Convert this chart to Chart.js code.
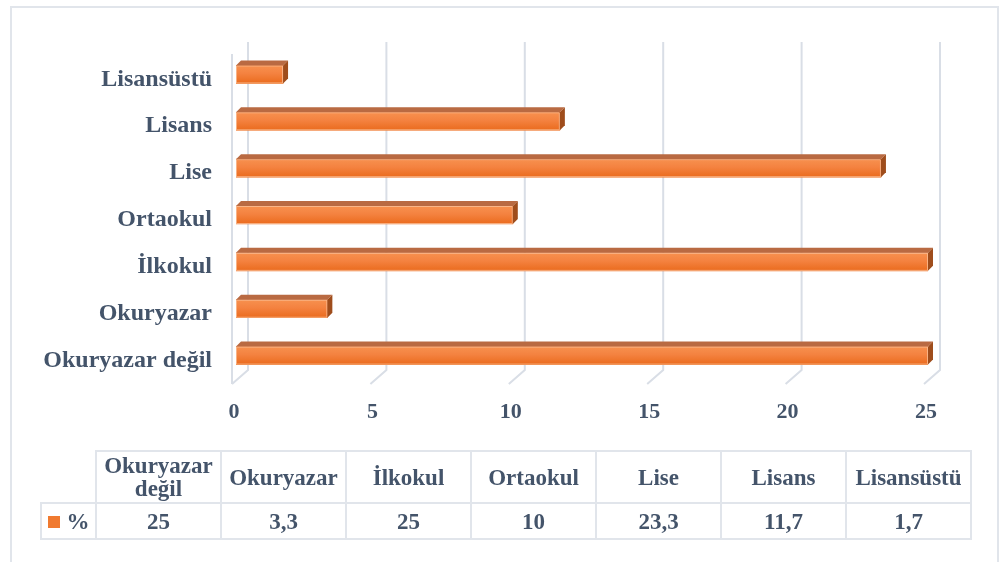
<!DOCTYPE html>
<html>
<head>
<meta charset="utf-8">
<script src="https://cdn.jsdelivr.net/npm/chart.js@4/dist/chart.umd.min.js"></script>
<style>
    html, body { margin: 0; padding: 0; background: #fff; }
    #wrap { position: relative; width: 1001px; height: 562px; overflow: hidden; }
    #frame { position: absolute; left: 10px; top: 6px; width: 985px; height: 600px; border: 2px solid #e1e5eb; }
    #chart { position: absolute; left: 0; top: 0; }
    #dataTable {
        position: absolute; left: 40px; top: 450px; width: 932px;
        border-collapse: collapse; table-layout: fixed;
        font-family: "Liberation Serif", "Times New Roman", serif; font-weight: bold;
        font-size: 23px; color: #44546a; text-align: center;
    }
    #dataTable td { border: 2px solid #e1e5eb; padding: 0; line-height: 23px; white-space: normal; }
    #dataTable tr.head td { height: 50px; }
    #dataTable tr.vals td { height: 34px; }
    #dataTable td.blank { border-top: none; border-left: none; }
    .key { display: inline-block; width: 12px; height: 12px; background: #f07a30; margin-right: 7px; vertical-align: 1px; }
</style>
</head>
<body>
<div id="wrap">
    <div id="frame"></div>
    <canvas id="chart" width="1001" height="562"></canvas>
    <table id="dataTable"></table>
</div>
<script>
// data
const categories = ['Okuryazar değil', 'Okuryazar', 'İlkokul', 'Ortaokul', 'Lise', 'Lisans', 'Lisansüstü'];
const percentValues = [25, 3.3, 25, 10, 23.3, 11.7, 1.7];
const seriesName = '%';
const tickValues = [0, 5, 10, 15, 20, 25];

const textColor = '#44546a';
const gridColor = '#d9dee6';
const serif = '"Liberation Serif", "Times New Roman", serif';

// 3D look: grid walls behind the bars
const gridPlugin = {
    id: 'grid3d',
    beforeDatasetsDraw(chart) {
        const ctx = chart.ctx;
        const x = chart.scales.x;
        const top = chart.chartArea.top;
        const bottom = chart.chartArea.bottom;
        ctx.save();
        ctx.strokeStyle = gridColor;
        ctx.lineWidth = 2;
        tickValues.forEach(v => {
            const px = x.getPixelForValue(v);
            ctx.beginPath();
            ctx.moveTo(px + 12, top - 9);
            ctx.lineTo(px + 12, bottom - 9);
            ctx.lineTo(px - 4, bottom + 5);
            ctx.stroke();
        });
        // front edge of the left wall
        const p0 = x.getPixelForValue(0);
        ctx.beginPath();
        ctx.moveTo(p0 - 4, top + 3);
        ctx.lineTo(p0 - 4, bottom + 5);
        ctx.stroke();
        ctx.restore();
    }
};

// 3D look: top and side faces of each bar
const barPlugin = {
    id: 'bars3d',
    afterDatasetsDraw(chart) {
        const ctx = chart.ctx;
        const d = 5;
        chart.getDatasetMeta(0).data.forEach(bar => {
            const left = bar.base;
            const right = bar.x;
            const t = bar.y - bar.height / 2;
            const b = bar.y + bar.height / 2;
            const g = ctx.createLinearGradient(0, t, 0, b);
            g.addColorStop(0, '#f7914f');
            g.addColorStop(0.45, '#f48240');
            g.addColorStop(1, '#ea6b1d');
            ctx.save();
            ctx.fillStyle = g;
            ctx.fillRect(left, t, right - left, b - t);
            ctx.strokeStyle = 'rgba(250,190,150,0.8)';
            ctx.lineWidth = 1;
            ctx.strokeRect(left + 0.5, t + 0.5, right - left - 1, b - t - 1);
            // top face
            ctx.fillStyle = '#b96a42';
            ctx.beginPath();
            ctx.moveTo(left, t);
            ctx.lineTo(left + d, t - d);
            ctx.lineTo(right + d, t - d);
            ctx.lineTo(right, t);
            ctx.closePath();
            ctx.fill();
            // side face
            ctx.fillStyle = '#9f4d1c';
            ctx.beginPath();
            ctx.moveTo(right, t);
            ctx.lineTo(right + d, t - d);
            ctx.lineTo(right + d, b - d);
            ctx.lineTo(right, b);
            ctx.closePath();
            ctx.fill();
            ctx.restore();
        });
    }
};

new Chart(document.getElementById('chart').getContext('2d'), {
    type: 'bar',
    data: {
        labels: categories,
        datasets: [{
            label: seriesName,
            data: percentValues,
            backgroundColor: '#f07a30',
            barThickness: 18
        }]
    },
    options: {
        indexAxis: 'y',
        responsive: false,
        animation: false,
        layout: { padding: { top: 51, right: 73, left: 0, bottom: 0 } },
        plugins: { legend: { display: false }, tooltip: { enabled: false } },
        scales: {
            y: {
                reverse: true,
                grid: { display: false },
                border: { display: false },
                ticks: { color: textColor, font: { family: serif, size: 24, weight: 'bold' }, padding: 16, labelOffset: 5 },
                afterFit(scale) { scale.width = 236; }
            },
            x: {
                min: 0,
                max: 25,
                afterBuildTicks(scale) { scale.ticks = tickValues.map(v => ({ value: v })); },
                grid: { display: false },
                border: { display: false },
                ticks: { color: textColor, font: { family: serif, size: 22, weight: 'bold' }, padding: 12, labelOffset: -2 },
                afterFit(scale) { scale.height = 562 - 51 - 328; }
            }
        }
    },
    plugins: [gridPlugin, barPlugin]
});

// data table under the chart
function fmt(v) { return String(v).replace('.', ','); }
const table = document.getElementById('dataTable');
let html = '<colgroup><col style="width:55px">' + categories.map(() => '<col>').join('') + '</colgroup>';
html += '<tr class="head"><td class="blank"></td>' + categories.map(c => '<td>' + c + '</td>').join('') + '</tr>';
html += '<tr class="vals"><td><span class="key"></span>' + seriesName + '</td>' +
    percentValues.map(v => '<td>' + fmt(v) + '</td>').join('') + '</tr>';
table.innerHTML = html;
</script>
</body>
</html>
